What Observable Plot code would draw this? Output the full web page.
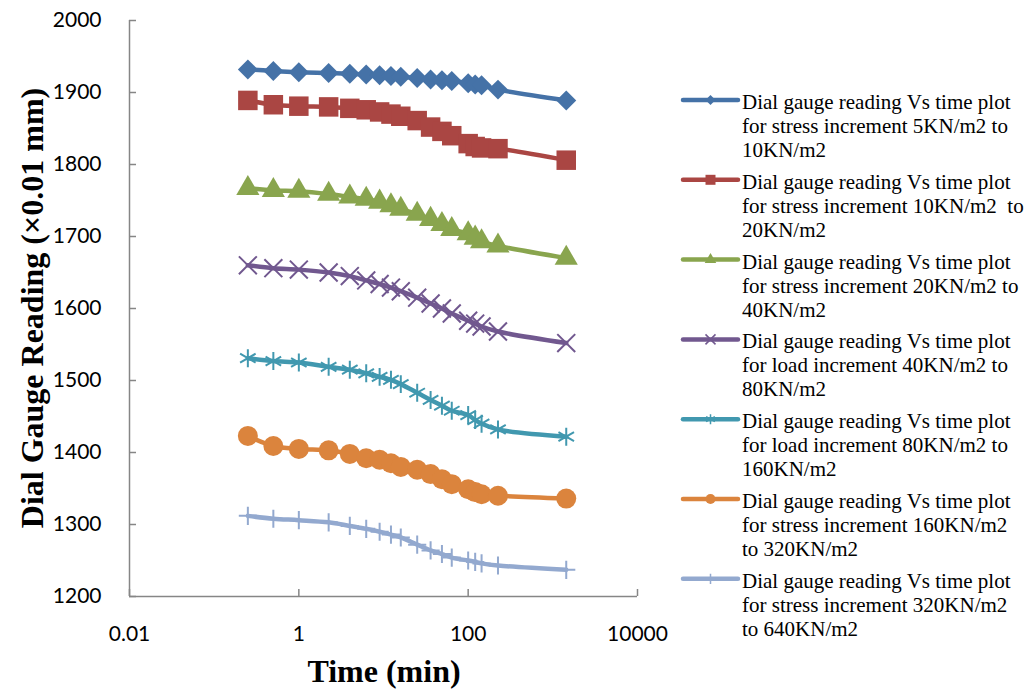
<!DOCTYPE html>
<html>
<head>
<meta charset="utf-8">
<script src="https://cdn.jsdelivr.net/npm/d3@7"></script>
<script src="https://cdn.jsdelivr.net/npm/@observablehq/plot@0.6"></script>
<style>
  html, body { margin: 0; padding: 0; background: #fff; }
  #chart { width: 1033px; height: 691px; }
</style>
</head>
<body>
<div id="chart"></div>
<script>
// Elapsed time of each dial reading (min), shared by all load stages
const time = [0.25, 0.5, 1, 2.25, 4, 6.25, 9, 12.25, 16, 25, 36, 49, 64, 100, 121, 144, 225, 1440];

// Dial gauge readings (×0.01 mm) for each load increment
const stage5to10 = [1932, 1930, 1928, 1927, 1926, 1925, 1924, 1923, 1922, 1920, 1918, 1917, 1916, 1913, 1911, 1910, 1904, 1889];
const stage10to20 = [1889, 1883, 1881, 1880, 1878, 1876, 1873, 1870, 1867, 1861, 1852, 1846, 1840, 1829, 1825, 1823, 1822, 1806];
const stage20to40 = [1767, 1764, 1763, 1759, 1755, 1752, 1748, 1743, 1738, 1731, 1724, 1717, 1710, 1704, 1698, 1693, 1687, 1670];
const stage40to80 = [1660, 1656, 1654, 1650, 1645, 1639, 1634, 1629, 1624, 1615, 1607, 1600, 1593, 1583, 1579, 1575, 1568, 1552];
const stage80to160 = [1531, 1527, 1525, 1519, 1515, 1510, 1505, 1501, 1495, 1483, 1473, 1465, 1458, 1452, 1445, 1440, 1432, 1422];
const stage160to320 = [1423, 1409, 1405, 1403, 1398, 1392, 1390, 1385, 1380, 1376, 1370, 1363, 1356, 1349, 1345, 1342, 1340, 1336];
const stage320to640 = [1312, 1308, 1306, 1303, 1298, 1294, 1290, 1286, 1282, 1272, 1264, 1259, 1254, 1250, 1248, 1246, 1243, 1237];

const seriesLabels = [
  ["Dial gauge reading Vs time plot", "for stress increment 5KN/m2 to", "10KN/m2"],
  ["Dial gauge reading Vs time plot", "for stress increment 10KN/m2  to", "20KN/m2"],
  ["Dial gauge reading Vs time plot", "for stress increment 20KN/m2 to", "40KN/m2"],
  ["Dial gauge reading Vs time plot", "for load increment 40KN/m2 to", "80KN/m2"],
  ["Dial gauge reading Vs time plot", "for load increment 80KN/m2 to", "160KN/m2"],
  ["Dial gauge reading Vs time plot", "for stress increment 160KN/m2", "to 320KN/m2"],
  ["Dial gauge reading Vs time plot", "for stress increment 320KN/m2", "to 640KN/m2"]
];

const xTicks = [0.01, 1, 100, 10000];
const yTicks = [1200, 1300, 1400, 1500, 1600, 1700, 1800, 1900, 2000];

const xTitle = "Time (min)";
const yTitle = "Dial Gauge Reading (×0.01 mm)";

// Marker styling per series
const seriesStyle = [
  {color: "#4572A7", symbol: "diamond2", r: 9, filled: true, legendSize: 64},
  {color: "#AA4643", symbol: "square", r: 11, filled: true, legendSize: 100},
  {color: "#89A54E", symbol: "triangle", r: 8.6, filled: true, legendSize: 58},
  {color: "#71588F", symbol: "times", r: 8.2, filled: false, legendSize: 67},
  {color: "#4198AF", symbol: "asterisk", r: 8.5, filled: false, legendSize: 71},
  {color: "#DB843D", symbol: "circle", r: 10, filled: true, legendSize: 80},
  {color: "#93A9CF", symbol: "plus", r: 5.9, filled: false, legendSize: 36}
];

const seriesValues = [stage5to10, stage10to20, stage20to40, stage40to80, stage80to160, stage160to320, stage320to640];
const tables = seriesValues.map(vals => vals.map((v, i) => ({time: time[i], reading: v})));

const axisGray = "#868686";

const seriesMarks = tables.flatMap((rows, k) => {
  const s = seriesStyle[k];
  const dotOpts = s.filled
    ? {x: "time", y: "reading", symbol: s.symbol, r: s.r, fill: s.color, stroke: "none"}
    : {x: "time", y: "reading", symbol: s.symbol, r: s.r, fill: "none", stroke: s.color, strokeWidth: 2};
  return [
    Plot.line(rows, {x: "time", y: "reading", stroke: s.color, strokeWidth: 4.5, curve: "catmull-rom"}),
    Plot.dot(rows, dotOpts)
  ];
});

const svg = Plot.plot({
  width: 1033,
  height: 691,
  marginLeft: 129,
  marginRight: 396,
  marginTop: 20,
  marginBottom: 95,
  style: {fontFamily: "Lato, 'Open Sans', sans-serif", fontSize: "21px", color: "#000", background: "#fff"},
  x: {type: "log", domain: [0.01, 10000]},
  y: {domain: [1200, 2000]},
  marks: [
    Plot.axisX({ticks: xTicks, tickFormat: d => String(d), tickSize: -7, tickPadding: 37, stroke: axisGray, strokeWidth: 1.5, label: null}),
    Plot.axisY({ticks: yTicks, tickFormat: d => String(d), tickSize: -7, tickPadding: 35, stroke: axisGray, strokeWidth: 1.5, label: null}),
    Plot.ruleX([0.01], {stroke: axisGray, strokeWidth: 1.5}),
    Plot.ruleY([1200], {stroke: axisGray, strokeWidth: 1.5}),
    ...seriesMarks
  ]
});

const root = d3.select(svg);
const serif = "'Liberation Serif', 'Times New Roman', serif";

// Axis titles
root.append("text")
  .attr("x", 384).attr("y", 682)
  .attr("text-anchor", "middle")
  .style("font-family", serif)
  .style("font-weight", "bold").style("font-size", "32px")
  .attr("fill", "#000")
  .text(xTitle);

root.append("text")
  .attr("transform", "translate(43,308) rotate(-90)")
  .attr("text-anchor", "middle")
  .style("font-family", serif)
  .style("font-weight", "bold").style("font-size", "32px")
  .attr("fill", "#000")
  .text(yTitle);

// Legend
const symbolTypes = {
  diamond2: d3.symbolDiamond2, square: d3.symbolSquare, triangle: d3.symbolTriangle,
  times: d3.symbolTimes, asterisk: d3.symbolAsterisk, circle: d3.symbolCircle, plus: d3.symbolPlus
};
const legend = root.append("g").attr("text-anchor", "start");
seriesStyle.forEach((s, k) => {
  const base = 109 + 79.8 * k;
  const cy = base - 9;
  const g = legend.append("g");
  g.append("line")
    .attr("x1", 683).attr("x2", 738).attr("y1", cy).attr("y2", cy)
    .attr("stroke", s.color).attr("stroke-width", 4.5).attr("stroke-linecap", "round");
  g.append("path")
    .attr("transform", `translate(710.5,${cy})`)
    .attr("d", d3.symbol(symbolTypes[s.symbol], s.legendSize)())
    .attr("fill", s.filled ? s.color : "none")
    .attr("stroke", s.filled ? "none" : s.color)
    .attr("stroke-width", s.filled ? 0 : 1.5);
  const t = g.append("text")
    .attr("text-anchor", "start")
    .style("font-family", serif)
    .style("font-size", "21px")
    .style("white-space", "pre")
    .attr("fill", "#000");
  seriesLabels[k].forEach((line, j) => {
    t.append("tspan").attr("x", 742).attr("y", base + 24 * j).text(line);
  });
});

document.getElementById("chart").appendChild(svg);
</script>
</body>
</html>
